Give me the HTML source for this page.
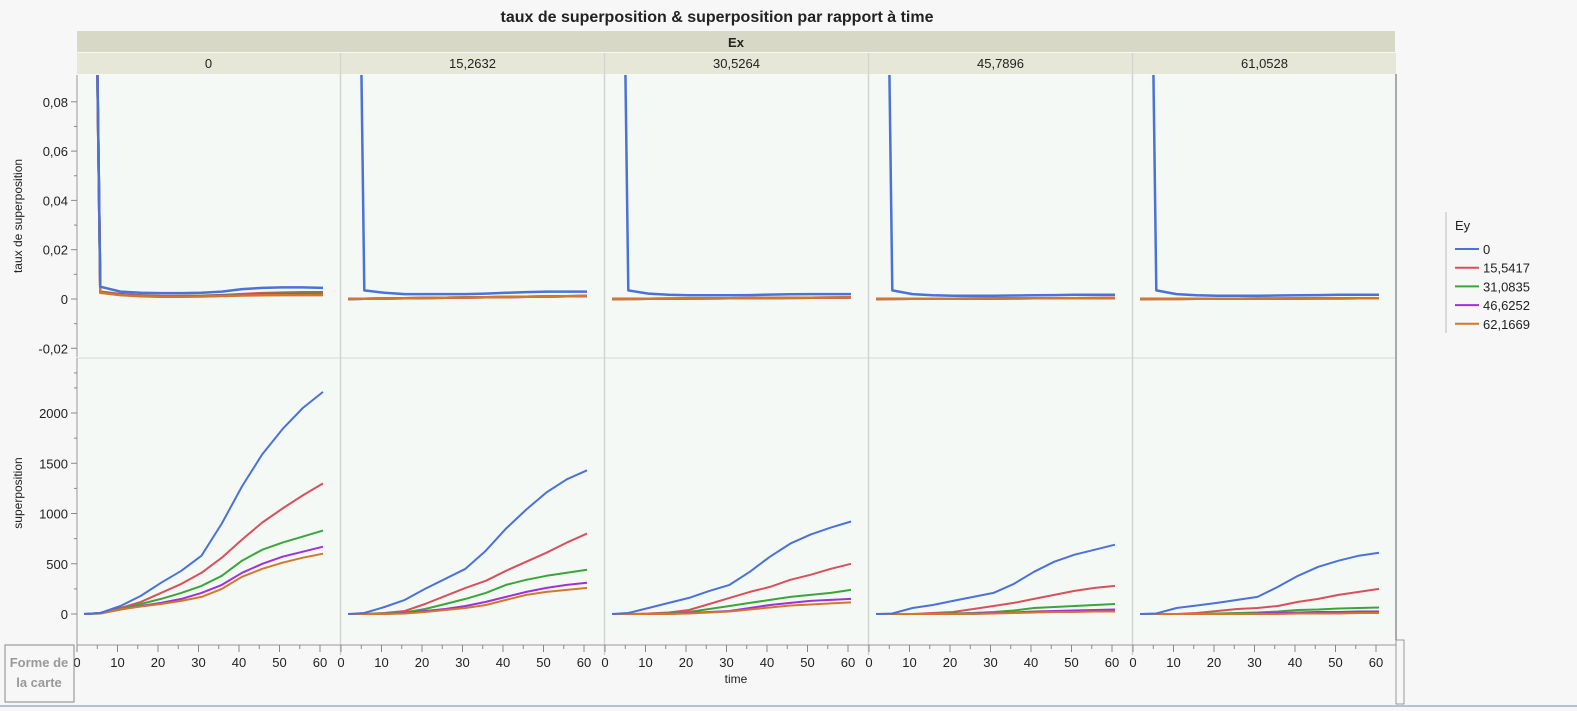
<!DOCTYPE html>
<html><head><meta charset="utf-8"><style>
body{margin:0;background:#f7f7f7;width:1577px;height:711px;overflow:hidden;font-family:"Liberation Sans",sans-serif}
svg{position:absolute;left:0;top:0}
text{font-family:"Liberation Sans",sans-serif;fill:#222}
</style></head><body>
<svg id="chart" width="1577" height="711"></svg>
<script>
const exLabels=["0","15,2632","30,5264","45,7896","61,0528"];
const eyLabels=["0","15,5417","31,0835","46,6252","62,1669"];
const colors=["#4a72d8","#d9505a","#3aa63a","#a030d8","#d2782a"];
const times=[1,5,10,15,20,25,30,35,40,45,50,55,60];
const xTicks=[0,10,20,30,40,50,60];
const rateTicks=[0.08,0.06,0.04,0.02,0,-0.02];
const rateTickLabels=["0,08","0,06","0,04","0,02","0","-0,02"];
const supTicks=[0,500,1000,1500,2000];
const sup0=[[0,10,80,180,310,430,580,900,1270,1590,1840,2050,2210],[0,10,60,120,210,300,410,560,740,910,1050,1180,1300],[0,10,50,100,150,210,280,380,530,640,710,770,830],[0,5,45,80,110,150,210,290,410,500,570,620,670],[0,5,45,75,100,130,170,250,370,450,510,560,600]];
const sup1=[[0,10,70,140,250,350,450,630,850,1040,1210,1340,1430],[0,0,10,30,100,180,260,330,430,520,610,710,800],[0,0,5,15,50,100,150,210,290,340,380,410,440],[0,0,0,10,30,50,80,120,170,220,260,290,310],[0,0,0,5,20,40,60,90,140,190,220,240,260]];
const sup2=[[0,10,60,110,160,230,290,420,570,700,790,860,920],[0,0,5,15,40,100,160,220,270,340,390,450,500],[0,0,0,5,20,50,80,110,140,170,190,210,240],[0,0,0,0,10,20,30,60,90,110,130,140,150],[0,0,0,0,5,15,25,45,65,85,95,105,115]];
const sup3=[[0,5,60,90,130,170,210,300,420,520,590,640,690],[0,0,0,10,20,50,80,110,150,190,230,260,280],[0,0,0,0,5,10,20,35,60,70,80,90,100],[0,0,0,0,0,5,10,15,25,30,35,40,45],[0,0,0,0,0,0,5,10,15,20,20,25,25]];
const sup4=[[0,5,60,85,110,140,170,270,380,470,530,580,610],[0,0,0,10,30,50,60,80,120,150,190,220,250],[0,0,0,0,5,10,15,25,40,45,55,60,65],[0,0,0,0,0,0,5,10,15,20,20,25,25],[0,0,0,0,0,0,0,0,5,5,5,10,10]];
const supData=[sup0,sup1,sup2,sup3,sup4];
const rate0=[[0.5,0.005,0.003,0.0025,0.0024,0.0024,0.0025,0.003,0.004,0.0045,0.0047,0.0047,0.0045],[0.5,0.003,0.002,0.0015,0.0012,0.0012,0.0013,0.0016,0.002,0.0024,0.0026,0.0027,0.0027],[0.5,0.0028,0.0018,0.0013,0.0011,0.0011,0.0012,0.0014,0.0017,0.002,0.0021,0.0021,0.0021],[0.5,0.0026,0.0017,0.0012,0.001,0.001,0.0011,0.0013,0.0015,0.0017,0.0018,0.0018,0.0018],[0.5,0.0025,0.0016,0.0011,0.0009,0.0009,0.001,0.0012,0.0014,0.0015,0.0016,0.0016,0.0016]];
const rateBlue=[[0.5,0.0035,0.0025,0.002,0.002,0.002,0.002,0.0022,0.0025,0.0028,0.003,0.003,0.003],[0.5,0.0035,0.0022,0.0017,0.0015,0.0015,0.0015,0.0016,0.0018,0.0019,0.002,0.002,0.002],[0.5,0.0035,0.002,0.0015,0.0013,0.0013,0.0013,0.0014,0.0015,0.0016,0.0017,0.0017,0.0017],[0.5,0.0035,0.002,0.0015,0.0013,0.0013,0.0013,0.0014,0.0015,0.0016,0.0017,0.0017,0.0017]];
const rateOtherEnd=[0.0012,0.0006,0.0004,0.0003];

const svg=document.getElementById('chart');
const NS="http://www.w3.org/2000/svg";
function mk(tag,attrs,parent){const e=document.createElementNS(NS,tag);for(const k in attrs)e.setAttribute(k,attrs[k]);(parent||svg).appendChild(e);return e;}
const colX=[77,341,605,869,1133], colW=263;
const topY0=75, topY1=357, botY0=358, botY1=637;
function xs(c,t){return colX[c]+3+t*(243/60);}
function yr(v){return 299-(v/0.02)*49.3;}
function ys(v){return 614-(v/500)*50.25;}

let t=mk('text',{x:717,y:22,'text-anchor':'middle','font-size':16,'font-weight':'bold'});t.textContent="taux de superposition & superposition par rapport à time";

let r=mk('rect',{x:77,y:31,width:1318,height:21,fill:'#d8d8c6'});

t=mk('text',{x:736,y:47,'text-anchor':'middle','font-size':13,'font-weight':'bold'});t.textContent="Ex";

for(let c=0;c<5;c++){
  const h=mk('rect',{x:colX[c],y:53,width:colW,height:21,fill:'#e7e7d8'});
  
  t=mk('text',{x:colX[c]+colW/2,y:68,'text-anchor':'middle','font-size':13});t.textContent=exLabels[c];
  
  const p=mk('rect',{x:colX[c],y:topY0,width:colW,height:botY1-topY0,fill:'#f5f9f5'});
  
  mk('line',{x1:colX[c],x2:colX[c]+colW,y1:botY0,y2:botY0,stroke:'#d6d6d6'});
  if(c>0)mk('line',{x1:colX[c]-0.5,x2:colX[c]-0.5,y1:53,y2:botY1+18,stroke:'#d4d4d4','stroke-width':1.5});
}
const cp=document.createElementNS(NS,'clipPath');cp.id='ct';svg.appendChild(cp);
mk('rect',{x:77,y:topY0,width:1320,height:topY1-topY0},cp);
mk('line',{x1:1396,x2:1396,y1:74,y2:640,stroke:'#aaa','stroke-width':2});
mk('line',{x1:77,x2:77,y1:topY0,y2:topY1,stroke:'#999'});
mk('line',{x1:77,x2:77,y1:botY0,y2:652,stroke:'#999'});
rateTicks.forEach((v,i)=>{const y=yr(v);mk('line',{x1:71,x2:77,y1:y,y2:y,stroke:'#888'});
  mk('line',{x1:74,x2:77,y1:y+24.65,y2:y+24.65,stroke:'#888'});
  const tx=mk('text',{x:68,y:y+5,'text-anchor':'end','font-size':13});tx.textContent=rateTickLabels[i];
  });
supTicks.forEach(v=>{const y=ys(v);mk('line',{x1:71,x2:77,y1:y,y2:y,stroke:'#888'});
  mk('line',{x1:74,x2:77,y1:y-25.1,y2:y-25.1,stroke:'#888'});
  const tx=mk('text',{x:68,y:y+5,'text-anchor':'end','font-size':13});tx.textContent=String(v);
  });
t=mk('text',{x:22,y:216,'text-anchor':'middle','font-size':12,transform:'rotate(-90 22 216)'});t.textContent="taux de superposition";

t=mk('text',{x:22,y:493,'text-anchor':'middle','font-size':12,transform:'rotate(-90 22 493)'});t.textContent="superposition";

mk('line',{x1:77,x2:1396,y1:645,y2:645,stroke:'#999'});
for(let c=0;c<5;c++){
  xTicks.forEach(v=>{const xx=colX[c]+v*(243/60);
    mk('line',{x1:xx,x2:xx,y1:645,y2:652,stroke:'#888'});
    if(v<60)mk('line',{x1:xx+20.25,x2:xx+20.25,y1:645,y2:649,stroke:'#888'});
    const tx=mk('text',{x:xx,y:667,'text-anchor':'middle','font-size':13});tx.textContent=String(v);
    });
}
t=mk('text',{x:736,y:683,'text-anchor':'middle','font-size':12});t.textContent="time";

function line(c,vals,fy,col,clip,name,w){
  const pts=vals.map((v,i)=>xs(c,times[i]).toFixed(1)+','+fy(v).toFixed(1)).join(' ');
  const pl=mk('polyline',{points:pts,fill:'none',stroke:col,'stroke-width':w,'stroke-linejoin':'round'});
  if(clip)pl.setAttribute('clip-path','url(#ct)');
  
}
const order=[1,2,3,4,0];
for(let c=0;c<5;c++){
  order.forEach(s=>{
    let rv;
    if(c===0)rv=rate0[s];
    else if(s===0)rv=rateBlue[c-1];
    else rv=times.map((tt,i)=>i===0?0:rateOtherEnd[c-1]*(i/12));
    line(c,rv,yr,colors[s],true,'rate-line-'+s,2.5);
    line(c,supData[c][s],ys,colors[s],false,'superposition-line-'+s,2);
  });
}
mk('line',{x1:1446,x2:1446,y1:212,y2:333,stroke:'#bbb'});
t=mk('text',{x:1455,y:230,'font-size':13});t.textContent="Ey";

eyLabels.forEach((l,i)=>{const y=249+i*18.7;
  const g=mk('g',{});
  mk('line',{x1:1455,x2:1479,y1:y,y2:y,stroke:colors[i],'stroke-width':2},g);
  const tx=mk('text',{x:1483,y:y+5,'font-size':13},g);tx.textContent=l;});
const fb=mk('rect',{x:5,y:645,width:69,height:57,fill:'none',stroke:'#888'});

t=mk('text',{x:39,y:667,'text-anchor':'middle','font-size':13,'font-weight':'bold'});t.textContent="Forme de";t.style.fill='#999';
t=mk('text',{x:39,y:687,'text-anchor':'middle','font-size':13,'font-weight':'bold'});t.textContent="la carte";t.style.fill='#999';
mk('line',{x1:0,x2:1577,y1:706,y2:706,stroke:'#b8c0d8','stroke-width':2});
mk('rect',{x:1396,y:640,width:8,height:64,fill:'none',stroke:'#999'});
</script>
</body></html>
